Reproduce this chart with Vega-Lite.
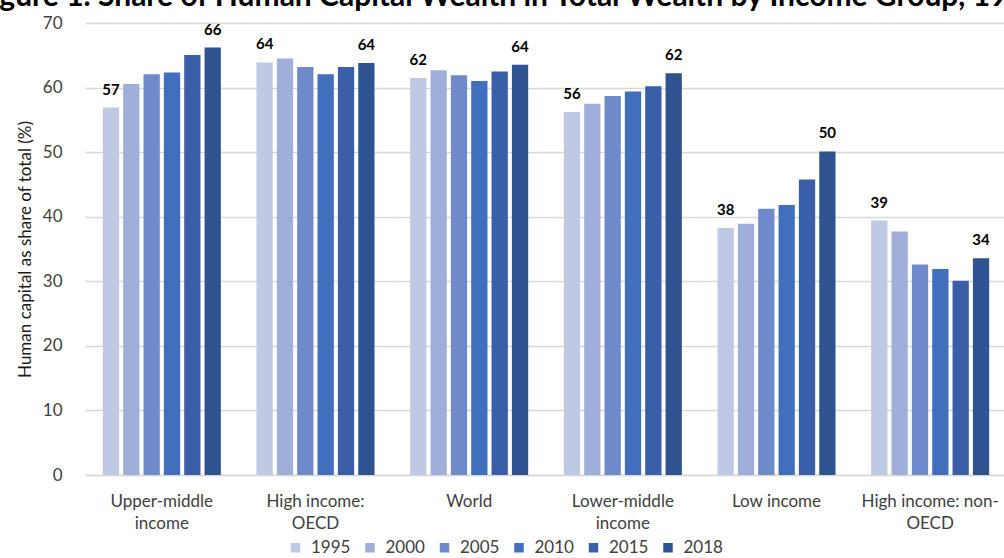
{
  "$schema": "https://vega.github.io/schema/vega-lite/v6.json",
  "width": 922,
  "height": 452,
  "autosize": {"type": "none"},
  "padding": {"left": 85, "top": 23, "right": 0, "bottom": 83},
  "background": "white",
  "config": {
    "font": "Lato",
    "view": {"stroke": null}
  },
  "title": {
    "text": "Figure 1. Share of Human Capital Wealth in Total Wealth by Income Group, 1995–2018",
    "anchor": "middle",
    "frame": "group",
    "fontSize": 30,
    "fontWeight": "bold",
    "color": "#000000",
    "baseline": "alphabetic",
    "offset": 5,
    "dy": 27,
    "dx": 6
  },
  "data": {
    "values": [
      {"group": "Upper-middle income", "year": "1995", "value": 56.9},
      {"group": "Upper-middle income", "year": "2000", "value": 60.55},
      {"group": "Upper-middle income", "year": "2005", "value": 62.05},
      {"group": "Upper-middle income", "year": "2010", "value": 62.35},
      {"group": "Upper-middle income", "year": "2015", "value": 65.05},
      {"group": "Upper-middle income", "year": "2018", "value": 66.2},
      {"group": "High income: OECD", "year": "1995", "value": 63.9},
      {"group": "High income: OECD", "year": "2000", "value": 64.5},
      {"group": "High income: OECD", "year": "2005", "value": 63.2},
      {"group": "High income: OECD", "year": "2010", "value": 62.05},
      {"group": "High income: OECD", "year": "2015", "value": 63.2},
      {"group": "High income: OECD", "year": "2018", "value": 63.8},
      {"group": "World", "year": "1995", "value": 61.5},
      {"group": "World", "year": "2000", "value": 62.7},
      {"group": "World", "year": "2005", "value": 61.9},
      {"group": "World", "year": "2010", "value": 61.0},
      {"group": "World", "year": "2015", "value": 62.5},
      {"group": "World", "year": "2018", "value": 63.55},
      {"group": "Lower-middle income", "year": "1995", "value": 56.2},
      {"group": "Lower-middle income", "year": "2000", "value": 57.5},
      {"group": "Lower-middle income", "year": "2005", "value": 58.7},
      {"group": "Lower-middle income", "year": "2010", "value": 59.4},
      {"group": "Lower-middle income", "year": "2015", "value": 60.2},
      {"group": "Lower-middle income", "year": "2018", "value": 62.2},
      {"group": "Low income", "year": "1995", "value": 38.25},
      {"group": "Low income", "year": "2000", "value": 38.9},
      {"group": "Low income", "year": "2005", "value": 41.25},
      {"group": "Low income", "year": "2010", "value": 41.8},
      {"group": "Low income", "year": "2015", "value": 45.75},
      {"group": "Low income", "year": "2018", "value": 50.1},
      {"group": "High income: non-OECD", "year": "1995", "value": 39.4},
      {"group": "High income: non-OECD", "year": "2000", "value": 37.7},
      {"group": "High income: non-OECD", "year": "2005", "value": 32.6},
      {"group": "High income: non-OECD", "year": "2010", "value": 31.9},
      {"group": "High income: non-OECD", "year": "2015", "value": 30.1},
      {"group": "High income: non-OECD", "year": "2018", "value": 33.55}
    ]
  },
  "encoding": {
    "x": {
      "field": "group",
      "type": "nominal",
      "sort": null,
      "scale": {"paddingInner": 0.232, "paddingOuter": 0.116},
      "axis": {
        "title": null,
        "labelAngle": 0,
        "labelFontSize": 17,
        "labelColor": "#404040",
        "labelPadding": 18,
        "labelLineHeight": 22,
        "labelBaseline": "top",
        "ticks": false,
        "domainColor": "#d9d9d9",
        "domainWidth": 1.5,
        "labelExpr": "datum.value == 'Upper-middle income' ? ['Upper-middle', 'income'] : datum.value == 'High income: OECD' ? ['High income:', 'OECD'] : datum.value == 'Lower-middle income' ? ['Lower-middle', 'income'] : datum.value == 'High income: non-OECD' ? ['High income: non-', 'OECD'] : datum.value"
      }
    },
    "xOffset": {
      "field": "year",
      "type": "nominal",
      "scale": {"paddingInner": 0.2, "paddingOuter": 0}
    },
    "y": {
      "field": "value",
      "type": "quantitative",
      "scale": {"domain": [0, 70], "nice": false},
      "axis": {
        "values": [0, 10, 20, 30, 40, 50, 60, 70],
        "title": "Human capital as share of total (%)",
        "titleFontSize": 17,
        "titleFontWeight": "normal",
        "titleColor": "#1a1a1a",
        "titlePadding": 8,
        "labelFontSize": 17,
        "labelColor": "#404040",
        "labelPadding": 23,
        "ticks": false,
        "domain": false,
        "gridColor": "#d9d9d9",
        "gridWidth": 1.5
      }
    }
  },
  "layer": [
    {
      "mark": {"type": "bar"},
      "encoding": {
        "color": {
          "field": "year",
          "type": "nominal",
          "scale": {
            "domain": ["1995", "2000", "2005", "2010", "2015", "2018"],
            "range": ["#BFC9E3", "#9FAFD9", "#6F8ACB", "#416EBD", "#3A5FA8", "#2F5290"]
          },
          "legend": {
            "title": null,
            "orient": "none",
            "direction": "horizontal",
            "legendX": 202,
            "legendY": 516,
            "padding": 0,
            "symbolType": "square",
            "symbolSize": 90,
            "symbolStrokeWidth": 0,
            "labelFontSize": 17,
            "labelColor": "#404040",
            "labelOffset": 7,
            "columnPadding": 10.5
          }
        }
      }
    },
    {
      "transform": [{"filter": "datum.year == '1995' || datum.year == '2018'"}],
      "mark": {"type": "text", "baseline": "bottom", "dy": -10, "fontSize": 15, "fontWeight": "bold", "color": "#000000"},
      "encoding": {
        "text": {"field": "value", "type": "quantitative", "format": ".0f"}
      }
    }
  ]
}
